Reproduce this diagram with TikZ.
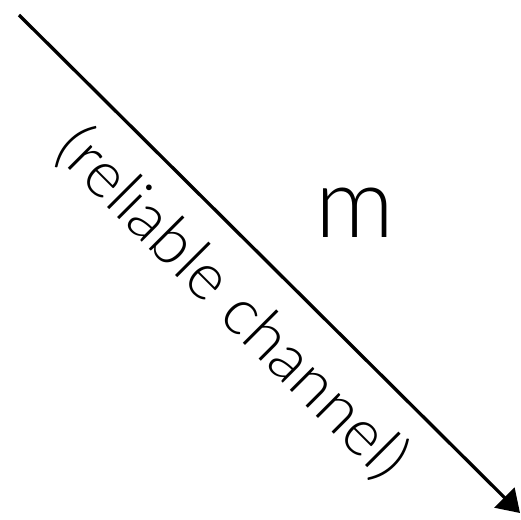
\documentclass[tikz,border=0pt]{standalone}
\usepackage{fontspec}
\setmainfont{Lato}[UprightFont=* Light]
\usepackage{tikz}
\usetikzlibrary{positioning,arrows.meta}

\begin{document}
\begin{tikzpicture}[x=1pt,y=-1pt,>={Triangle[length=22pt,width=28pt]}]
\useasboundingbox (0,0) rectangle (521,519);
\coordinate (src) at (19,15);
\coordinate (dst) at (520,513);
\draw[->,line width=3.3pt] (src) -- (dst);
\node (msg) [anchor=base,font=\fontsize{98}{98}\selectfont] at (355,237) {m};
\node (chan) [anchor=base,rotate=-45,font=\fontsize{65}{65}\selectfont] at (218,318) {(reliable channel)};
\end{tikzpicture}
\end{document}
